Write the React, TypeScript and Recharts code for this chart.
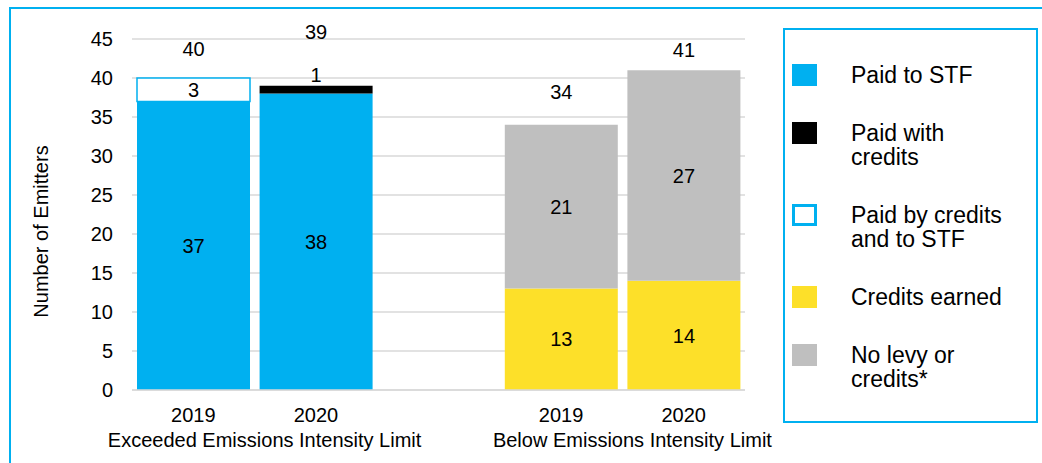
import { BarChart, Bar, XAxis, YAxis, CartesianGrid, LabelList } from 'recharts';

// categories along the x axis (the empty one is the spacer between groups)
const categories = ['2019', '2020', '', '2019', '2020'];
const groupOf = [
  'Exceeded Emissions Intensity Limit',
  'Exceeded Emissions Intensity Limit',
  '',
  'Below Emissions Intensity Limit',
  'Below Emissions Intensity Limit',
];

// series values
const paidToStf = [37, 38, null, 0, 0];
const paidWithCredits = [0, 1, null, 0, 0];
const paidByCreditsAndStf = [3, 0, null, 0, 0];
const creditsEarned = [0, 0, null, 13, 14];
const noLevy = [0, 0, null, 21, 27];

const yTicks = [0, 5, 10, 15, 20, 25, 30, 35, 40, 45];

const series = [
  { key: 'paidToStf', name: 'Paid to STF', values: paidToStf, fill: '#00B0F0' },
  { key: 'paidWithCredits', name: 'Paid with\ncredits', values: paidWithCredits, fill: '#000000' },
  { key: 'paidByCreditsAndStf', name: 'Paid by credits\nand to STF', values: paidByCreditsAndStf, fill: '#FFFFFF', stroke: '#00B0F0' },
  { key: 'creditsEarned', name: 'Credits earned', values: creditsEarned, fill: '#FDE029' },
  { key: 'noLevy', name: 'No levy or\ncredits*', values: noLevy, fill: '#BFBFBF' },
];

const FONT = '"Liberation Sans", Arial, sans-serif';
const BLUE = '#00B0F0';

// how far the total sits above its stack (Excel placed these by hand)
const totalLift = [29, 54, 0, 33, 20];

const rows = categories.map((category, i) => {
  const row: any = { category, group: groupOf[i], idx: String(i) };
  let total = 0;
  let top = '';
  series.forEach((s) => {
    const v = s.values[i];
    row[s.key] = v;
    if (v) {
      total += v;
      top = s.key;
    }
  });
  row.total = total;
  row.topKey = top;
  return row;
});

const CategoryTick = (props: any) => {
  const { x, y, payload, index } = props;
  const group = groupOf[index];
  const startsGroup = group && groupOf[index + 1] === group && groupOf[index - 1] !== group;
  return (
    <g>
      <text x={x} y={y} dy="0.71em" textAnchor="middle" fill="#000" fontSize={20} fontFamily={FONT}>
        {payload.value}
      </text>
      {startsGroup && (
        <text x={x + (payload.offset || 61) + 10} y={y + 25} dy="0.71em" textAnchor="middle" fill="#000" fontSize={20} fontFamily={FONT}>
          {group}
        </text>
      )}
    </g>
  );
};

// value carries the row index so the label can look up its total and lift
const TotalLabel = (props: any) => {
  const { value } = props;
  if (value === null || value === undefined || value === '') return null;
  const i = Number(value);
  const total = rows[i]?.total;
  if (!total) return null;
  const vb = props.viewBox || props;
  const cx = vb.x + vb.width / 2;
  return (
    <text x={cx} y={vb.y - totalLift[i]} dy="0.35em" textAnchor="middle" fill="#000" fontSize={20} fontFamily={FONT}>
      {total}
    </text>
  );
};

const AxisTitle = (props: any) => {
  const vb = props.viewBox;
  const x = vb.x + 41;
  const y = vb.y + vb.height / 2 + 17;
  return (
    <text x={x} y={y} transform={`rotate(-90, ${x}, ${y})`} dy="0.35em" textAnchor="middle" fill="#000" fontSize={20} fontFamily={FONT}>
      Number of Emitters
    </text>
  );
};

const App = () => {
  return (
    <div style={{ position: 'absolute', left: 0, top: 0, width: 1042, height: 463, overflow: 'hidden', background: '#fff', fontFamily: FONT }}>
      {/* outer frame, runs off the right and bottom of the picture */}
      <div style={{ position: 'absolute', left: 9, top: 7, width: 1100, height: 520, border: `2px solid ${BLUE}` }} />

      <div style={{ position: 'absolute', left: 0, top: 0 }}>
        <BarChart width={780} height={463} data={rows} margin={{ top: 39, right: 35, bottom: 13, left: 0 }} barCategoryGap={5}>
          <CartesianGrid vertical={false} stroke="#D9D9D9" strokeWidth={1.5} />
          <XAxis
            dataKey="category"
            height={60}
            interval={0}
            tickLine={false}
            tickMargin={12}
            axisLine={{ stroke: '#D9D9D9', strokeWidth: 1.5 }}
            tick={<CategoryTick />}
          />
          <YAxis
            width={132}
            domain={[0, 45]}
            ticks={yTicks}
            interval={0}
            axisLine={false}
            tickLine={false}
            tickMargin={13}
            tick={{ fill: '#000', fontSize: 20, fontFamily: FONT }}
            label={{ content: <AxisTitle /> } as any}
          />
          {series.map((s) => (
            <Bar
              key={s.key}
              dataKey={s.key}
              stackId="a"
              fill={s.fill}
              stroke={s.stroke}
              strokeWidth={s.stroke ? 1.5 : 0}
              isAnimationActive={false}
            >
              <LabelList
                dataKey={s.key}
                position={s.key === 'paidWithCredits' ? 'top' : 'center'}
                offset={4}
                fill="#000"
                fontSize={20}
                fontFamily={FONT}
                formatter={(v: any) => (v ? v : '')}
              />
              <LabelList
                dataKey={(row: any) => (row.topKey === s.key ? row.idx : null)}
                content={<TotalLabel />}
              />
            </Bar>
          ))}
        </BarChart>
      </div>

      {/* legend box */}
      <div
        style={{
          position: 'absolute',
          left: 783,
          top: 28,
          width: 255,
          height: 395,
          border: `2px solid ${BLUE}`,
          paddingTop: 33,
          boxSizing: 'border-box',
        }}
      >
        {series.map((s) => (
          <div key={s.key} style={{ position: 'relative', marginBottom: 34, paddingLeft: 66, fontSize: 23, lineHeight: '24px', color: '#000' }}>
            <div
              style={{
                position: 'absolute',
                left: 7,
                top: 1,
                width: 25,
                height: 22,
                boxSizing: 'border-box',
                background: s.fill,
                border: s.stroke ? `3px solid ${s.stroke}` : 'none',
              }}
            />
            {s.name.split('\n').map((line) => (
              <div key={line}>{line}</div>
            ))}
          </div>
        ))}
      </div>
    </div>
  );
};

export default App;
